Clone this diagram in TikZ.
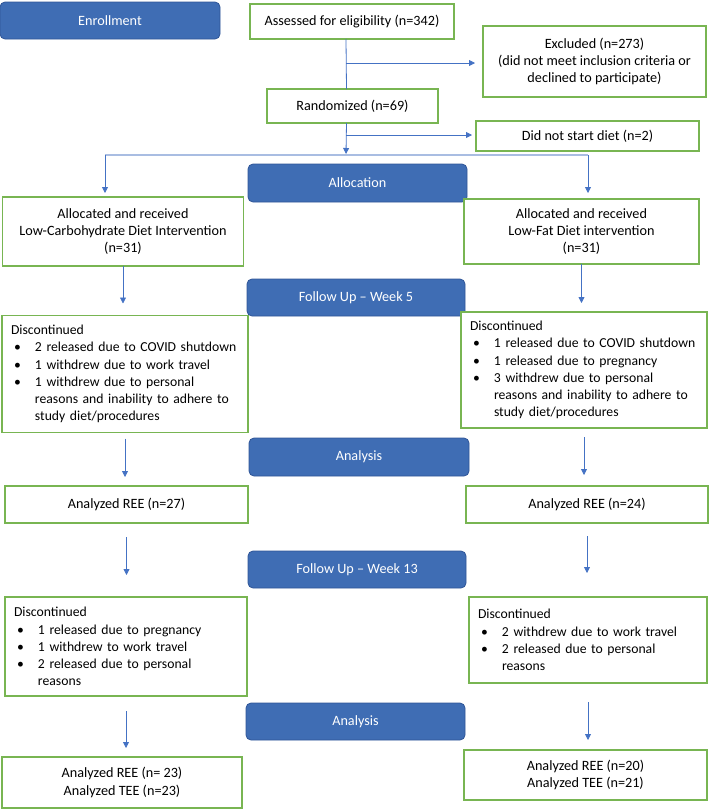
\documentclass[tikz,border=0pt]{standalone}
\usepackage{fontspec}
\setmainfont{Carlito}
\usetikzlibrary{arrows.meta}

\definecolor{boxgreen}{HTML}{78B552}
\definecolor{stageblue}{HTML}{3F6DB4}
\definecolor{stageedge}{HTML}{2F5597}
\definecolor{arrowblue}{HTML}{4472C4}
\definecolor{splitblue}{HTML}{A9BDE2}

\newcommand{\bul}[1]{\makebox[24pt][l]{\hspace*{3pt}\textbullet}\mbox{#1}}
\newcommand{\ind}[1]{\hspace*{24pt}\mbox{#1}}

\begin{document}
\begin{tikzpicture}[x=1pt, y=-1pt,
  every node/.style={font=\fontsize{14.2}{17.2}\selectfont, inner sep=0pt, outer sep=0pt},
  box/.style={draw=boxgreen, line width=1.2pt, fill=white, align=center},
  list/.style={box, align=left, inner xsep=9pt, font=\fontsize{13.7}{17.2}\selectfont},
  stage/.style={draw=stageedge, fill=stageblue, text=white, rounded corners=5pt, line width=0.8pt},
  arr/.style={draw=arrowblue, line width=0.8pt, -{Triangle[length=6pt,width=6pt]}},
  link/.style={draw=arrowblue, line width=0.8pt},
  split/.style={draw=splitblue, line width=2pt}]
\useasboundingbox (0,0) rectangle (709,809);

\node[stage, minimum width=220pt, minimum height=37pt] (enroll) at (110,20.5) {Enrollment};
\node[box, minimum width=204pt, minimum height=35pt] (assess) at (352,21.5) {Assessed for eligibility (n=342)};
\node[box, minimum width=223pt, minimum height=71pt] (excl) at (594.5,61.5) {Excluded (n=273)\\(did not meet inclusion criteria or\\declined to participate)};
\node[box, minimum width=171pt, minimum height=34pt] (rand) at (352.5,106) {Randomized (n=69)};
\node[box, minimum width=223pt, minimum height=30pt] (nostart) at (587.5,136) {Did not start diet (n=2)};

\node[stage, minimum width=219pt, minimum height=38pt] (alloc) at (357.5,183) {Allocation};
\node[box, minimum width=241pt, minimum height=69pt] (lowcarb) at (123,231.5) {Allocated and received\\Low-Carbohydrate Diet Intervention\\(n=31)};
\node[box, minimum width=235pt, minimum height=65pt] (lowfat) at (581.5,231.5) {Allocated and received\\Low-Fat Diet intervention\\(n=31)};

\node[stage, minimum width=218pt, minimum height=37pt] (week5) at (356,297.5) {Follow Up -- Week 5};
\node[list, text width=228pt, minimum height=117pt] (discA) at (125,374) {Discontinued\\
\bul{2 released due to COVID shutdown}\\
\bul{1 withdrew due to work travel}\\
\bul{1 withdrew due to personal}\\
\ind{reasons and inability to adhere to}\\
\ind{study diet/procedures}};
\node[list, text width=228pt, minimum height=116pt] (discB) at (584,370) {Discontinued\\
\bul{1 released due to COVID shutdown}\\
\bul{1 released due to pregnancy}\\
\bul{3 withdrew due to personal}\\
\ind{reasons and inability to adhere to}\\
\ind{study diet/procedures}};

\node[stage, minimum width=220pt, minimum height=38pt] (anaA) at (359,457) {Analysis};
\node[box, minimum width=243pt, minimum height=37pt] (reeA) at (126.5,504.5) {Analyzed REE (n=27)};
\node[box, minimum width=242pt, minimum height=37pt] (reeB) at (587,504.5) {Analyzed REE (n=24)};

\node[stage, minimum width=218pt, minimum height=37pt] (week13) at (357,569.5) {Follow Up -- Week 13};
\node[list, text width=224pt, minimum height=99pt] (discC) at (126,646.5) {Discontinued\\
\bul{1 released due to pregnancy}\\
\bul{1 withdrew to work travel}\\
\bul{2 released due to personal}\\
\ind{reasons}};
\node[list, text width=220pt, minimum height=86pt] (discD) at (588,640) {Discontinued\\
\bul{2 withdrew due to work travel}\\
\bul{2 released due to personal}\\
\ind{reasons}};

\node[stage, minimum width=219pt, minimum height=37pt] (anaB) at (355.5,721.5) {Analysis};
\node[box, minimum width=240pt, minimum height=51pt] (endA) at (122,782.5) {Analyzed REE (n= 23)\\Analyzed TEE (n=23)};
\node[box, minimum width=243pt, minimum height=50pt] (endB) at (585.5,775) {Analyzed REE (n=20)\\Analyzed TEE (n=21)};

% enrollment and randomisation
\coordinate (exc) at (346,63);
\coordinate (drop) at (346,135);
\coordinate (fork) at (346,154);
\coordinate (forkL) at (105,155);
\coordinate (forkR) at (588,155);
\draw[link] ([xshift=-6pt]assess.south) -- ([xshift=-6pt]rand.north);
\draw[arr, shorten >=8pt] (exc) -- (exc -| excl.west);
\draw[arr] ([xshift=-6pt]rand.south) -- (fork);
\draw[arr, shorten >=4pt] (drop) -- (drop -| nostart.west);
\draw[split] (forkL) -- (forkR);
\draw[arr, shorten >=4pt] (forkL) -- (forkL |- lowcarb.north);
\draw[arr, shorten >=6pt] (forkR) -- (forkR |- lowfat.north);

% low-carbohydrate arm
\draw[arr, shorten >=12pt] (lowcarb.south) -- (lowcarb.south |- discA.north);
\draw[arr, shorten <=6pt, shorten >=9pt] (discA.south) -- (discA.south |- reeA.north);
\draw[arr, shorten <=14pt, shorten >=22pt] (reeA.south) -- (reeA.south |- discC.north);
\draw[arr, shorten <=15pt, shorten >=9pt] (discC.south) -- (discC.south |- endA.north);

% low-fat arm
\draw[arr, shorten >=9pt] (lowfat.south) -- (lowfat.south |- discB.north);
\draw[arr, shorten <=9pt, shorten >=11pt] (discB.south) -- (discB.south |- reeB.north);
\draw[arr, shorten <=13pt, shorten >=24pt] (reeB.south) -- (reeB.south |- discD.north);
\draw[arr, shorten <=19pt, shorten >=10pt] (discD.south) -- (discD.south |- endB.north);
\end{tikzpicture}
\end{document}
